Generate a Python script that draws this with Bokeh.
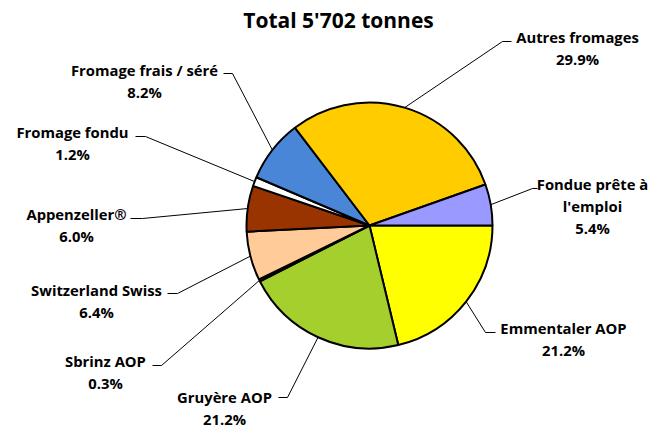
import math
from bokeh.plotting import figure
from bokeh.models import ColumnDataSource
from bokeh.core.properties import value
from bokeh.embed import file_html
from bokeh.resources import INLINE

# ---- data ----
title = "Total 5'702 tonnes"
categories = ["Emmentaler AOP", "Gruyère AOP", "Sbrinz AOP", "Switzerland Swiss",
              "Appenzeller®", "Fromage fondu", "Fromage frais / séré",
              "Autres fromages", "Fondue prête à\nl'emploi"]
values = [21.2, 21.2, 0.3, 6.4, 6.0, 1.2, 8.2, 29.9, 5.4]
colors = ["#FFFF00", "#A5CF2D", "#3A4A10", "#FFCC99", "#993300", "#FFFFFF",
          "#4A86D8", "#FFCC00", "#9999FF"]

# ---- layout (screen pixel positions) ----
W, H = 653, 429
OX, OY = 0, 0   # offset of the figure within the screenshot
FONT = "Open Sans"
def X(sx): return sx - OX
def Y(sy): return H + OY - sy

cx, cy, R = X(369), Y(225), 123
# label anchor (centre x, first line centre y), leader elbow, horizontal end
label_pos = [(563, 327), (224, 396), (105, 360), (96, 289), (76, 213),
             (72, 131), (144, 69), (577, 36), (592, 183)]
elbows = [(485, 332), (287, 397), (161, 365), (177, 293), (142, 218),
          (145, 136), (232, 73), (502, 41), (532, 188)]
hends = [(495, 332), (278, 397), (152, 365), (167, 293), (130, 218),
         (135, 136), (223, 73), (511, 41), (537, 188)]
LINE_H = 22

p = figure(width=W, height=H, x_range=(0, W), y_range=(0, H),
           x_axis_type=None, y_axis_type=None, toolbar_location=None,
           output_backend="svg", min_border=0)
p.outline_line_color = None
p.grid.visible = False
p.background_fill_color = "white"

total = sum(values)
starts, ends, mids = [], [], []
cum = 0.0
for v in values:
    a0 = cum / total * 2 * math.pi
    cum += v
    a1 = cum / total * 2 * math.pi
    starts.append(-a1)
    ends.append(-a0)
    mids.append(-(a0 + a1) / 2)

src = ColumnDataSource(dict(x=[cx] * len(values), y=[cy] * len(values),
                            start=starts, end=ends, color=colors))
p.wedge(x="x", y="y", radius=R, start_angle="start", end_angle="end",
        direction="anticlock", fill_color="color", line_color="black",
        line_width=2, source=src)

# leader lines
xs, ys = [], []
for m, (ex, ey), (hx, hy) in zip(mids, elbows, hends):
    xs.append([cx + R * math.cos(m), X(ex), X(hx)])
    ys.append([cy + R * math.sin(m), Y(ey), Y(hy)])
p.multi_line(xs=xs, ys=ys, line_color="black", line_width=1)

# labels
tx, ty, tt = [], [], []
for name, v, (lx, ly) in zip(categories, values, label_pos):
    lines = name.split("\n") + [f"{v:.1f}%"]
    for i, ln in enumerate(lines):
        tx.append(X(lx))
        ty.append(Y(ly + i * LINE_H))
        tt.append(ln)
p.text(x=tx, y=ty, text=tt, text_font=value(FONT), text_font_style="bold",
       text_font_size="14.8px", text_align="center", text_baseline="middle",
       text_color="black")

p.text(x=[X(338)], y=[Y(19)], text=[title], text_font=value(FONT),
       text_font_style="bold", text_font_size="21px", text_align="center",
       text_baseline="middle", text_color="black")

open("out.html", "w").write(file_html(p, INLINE))
